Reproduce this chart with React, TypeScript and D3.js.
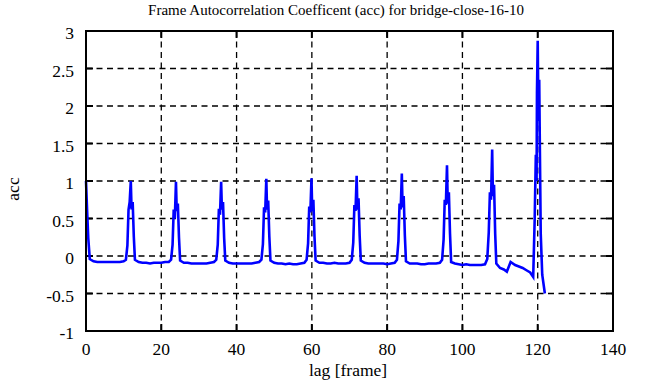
import React from "react";
import * as d3 from "d3";

// lag in frames (sub-frame points where the peaks are jagged)
const lags = [
  0, 0.3, 0.6, 1, 2, 3, 4, 5, 6, 7, 8, 9, 10,
  10.6, 11, 11.3, 11.6, 11.9, 12.1, 12.4, 12.7, 13, 14, 15, 16, 17, 18, 19, 20, 21, 22,
  22.6, 23, 23.3, 23.6, 23.9, 24.1, 24.4, 24.7, 25, 26, 27, 28, 29, 30, 31, 32, 33, 34,
  34.6, 35, 35.3, 35.6, 35.9, 36.1, 36.4, 36.7, 37, 38, 39, 40, 41, 42, 43, 44, 45, 46,
  46.6, 47, 47.3, 47.6, 47.9, 48.1, 48.4, 48.7, 49, 50, 51, 52, 53, 54, 55, 56, 57, 58,
  58.6, 59, 59.3, 59.6, 59.9, 60.1, 60.4, 60.7, 61, 62, 63, 64, 65, 66, 67, 68, 69, 70,
  70.6, 71, 71.3, 71.6, 71.9, 72.1, 72.4, 72.7, 73, 74, 75, 76, 77, 78, 79, 80, 81, 82,
  82.6, 83, 83.3, 83.6, 83.9, 84.1, 84.4, 84.7, 85, 86, 87, 88, 89, 90, 91, 92, 93, 94,
  94.6, 95, 95.3, 95.6, 95.9, 96.1, 96.4, 96.7, 97, 98, 99, 100, 101, 102, 103, 104, 105, 106,
  106.6, 107, 107.3, 107.6, 107.9, 108.1, 108.4, 108.7, 109, 110, 111, 111.8, 112.8, 114, 115, 116, 117, 118, 118.8,
  119.2, 119.5, 119.7, 119.8, 120.0, 120.2, 120.4, 120.6, 120.8, 121.2, 121.9,
];

const acc = [
  1.0, 0.6, 0.24, -0.04, -0.07, -0.08, -0.08, -0.08, -0.08, -0.08, -0.08, -0.08, -0.07,
  -0.05, 0.14, 0.62, 0.72, 1.0, 0.62, 0.72, 0.26, -0.05, -0.08, -0.09, -0.09, -0.1, -0.09, -0.09, -0.09, -0.08, -0.08,
  -0.05, 0.15, 0.62, 0.5, 0.99, 0.6, 0.7, 0.25, -0.06, -0.09, -0.09, -0.1, -0.1, -0.1, -0.1, -0.1, -0.09, -0.08,
  -0.05, 0.15, 0.63, 0.55, 0.99, 0.62, 0.72, 0.24, -0.06, -0.09, -0.1, -0.1, -0.1, -0.1, -0.1, -0.1, -0.09, -0.08,
  -0.05, 0.16, 0.65, 0.58, 1.03, 0.62, 0.74, 0.26, -0.06, -0.09, -0.1, -0.1, -0.11, -0.1, -0.11, -0.11, -0.1, -0.09,
  -0.05, 0.17, 0.66, 0.58, 1.035, 0.6, 0.75, 0.26, -0.06, -0.09, -0.09, -0.1, -0.1, -0.09, -0.1, -0.1, -0.1, -0.09,
  -0.05, 0.18, 0.68, 0.6, 1.07, 0.62, 0.77, 0.27, -0.06, -0.09, -0.1, -0.1, -0.1, -0.1, -0.1, -0.11, -0.1, -0.09,
  -0.05, 0.2, 0.7, 0.62, 1.1, 0.65, 0.8, 0.28, -0.07, -0.1, -0.1, -0.1, -0.11, -0.11, -0.1, -0.1, -0.1, -0.09,
  -0.05, 0.22, 0.75, 0.68, 1.21, 0.7, 0.85, 0.3, -0.08, -0.1, -0.11, -0.12, -0.11, -0.12, -0.12, -0.12, -0.12, -0.11,
  -0.04, 0.32, 0.85, 0.75, 1.42, 0.8, 0.95, 0.3, -0.1, -0.16, -0.18, -0.21, -0.08, -0.12, -0.14, -0.16, -0.19, -0.22, -0.28,
  0.5, 1.35, 1.0, 2.17, 2.87, 1.8, 2.35, 1.3, 0.3, -0.25, -0.5,
];

const xTicks = [0, 20, 40, 60, 80, 100, 120, 140];
const yTicks = [-1, -0.5, 0, 0.5, 1, 1.5, 2, 2.5, 3];
const yTickLabels = ["-1", "-0.5", "0", "0.5", "1", "1.5", "2", "2.5", "3"];

const W = 666;
const H = 387;
const left = 86;
const right = 613;
const top = 31;
const bottom = 331;

const serif = { fontFamily: "'Liberation Serif', 'Times New Roman', Times, serif" };

export default function App() {
  const x = d3.scaleLinear().domain([0, 140]).range([left, right]);
  const y = d3.scaleLinear().domain([-1, 3]).range([bottom, top]);
  const pts: [number, number][] = lags.map((l, i) => [l, acc[i]]);
  const line = d3
    .line<[number, number]>()
    .x(d => x(d[0]))
    .y(d => y(d[1]));

  return (
    <svg
      width={W}
      height={H}
      style={{ position: "absolute", left: 0, top: 0, background: "#fff" }}
    >
      <rect x={0} y={0} width={W} height={H} fill="#fff" />
      {/* grid */}
      {xTicks.slice(1, -1).map(t => (
        <line key={"gx" + t} x1={x(t)} x2={x(t)} y1={top} y2={bottom} stroke="#000" strokeWidth={1.3} strokeDasharray="6,4.5" />
      ))}
      {yTicks.slice(1, -1).map(t => (
        <line key={"gy" + t} x1={left} x2={right} y1={y(t)} y2={y(t)} stroke="#000" strokeWidth={1.3} strokeDasharray="6,4.5" />
      ))}
      {/* ticks */}
      {xTicks.map(t => (
        <g key={"tx" + t}>
          <line x1={x(t)} x2={x(t)} y1={bottom} y2={bottom - 7} stroke="#000" strokeWidth={2} />
          <line x1={x(t)} x2={x(t)} y1={top} y2={top + 7} stroke="#000" strokeWidth={2} />
          <text x={x(t)} y={355} textAnchor="middle" fontSize={17.5} style={serif}>{t}</text>
        </g>
      ))}
      {yTicks.map((t, i) => (
        <g key={"ty" + t}>
          <line x1={left} x2={left + 7} y1={y(t)} y2={y(t)} stroke="#000" strokeWidth={2} />
          <line x1={right} x2={right - 7} y1={y(t)} y2={y(t)} stroke="#000" strokeWidth={2} />
          <text x={74} y={y(t) + 8} textAnchor="end" fontSize={17.5} style={serif}>{yTickLabels[i]}</text>
        </g>
      ))}
      {/* data */}
      <path d={line(pts) ?? ""} fill="none" stroke="#0000ff" strokeWidth={2.6} strokeLinejoin="miter" />
      {/* frame */}
      <rect x={left} y={top} width={right - left} height={bottom - top} fill="none" stroke="#000" strokeWidth={2} />
      {/* labels */}
      <text x={336} y={15} textAnchor="middle" fontSize={15} style={serif}>
        Frame Autocorrelation Coefficent (acc) for bridge-close-16-10
      </text>
      <text x={348} y={376} textAnchor="middle" fontSize={17.5} style={serif}>lag [frame]</text>
      <text transform="translate(19,189) rotate(-90)" textAnchor="middle" fontSize={17.5} style={serif}>acc</text>
    </svg>
  );
}
